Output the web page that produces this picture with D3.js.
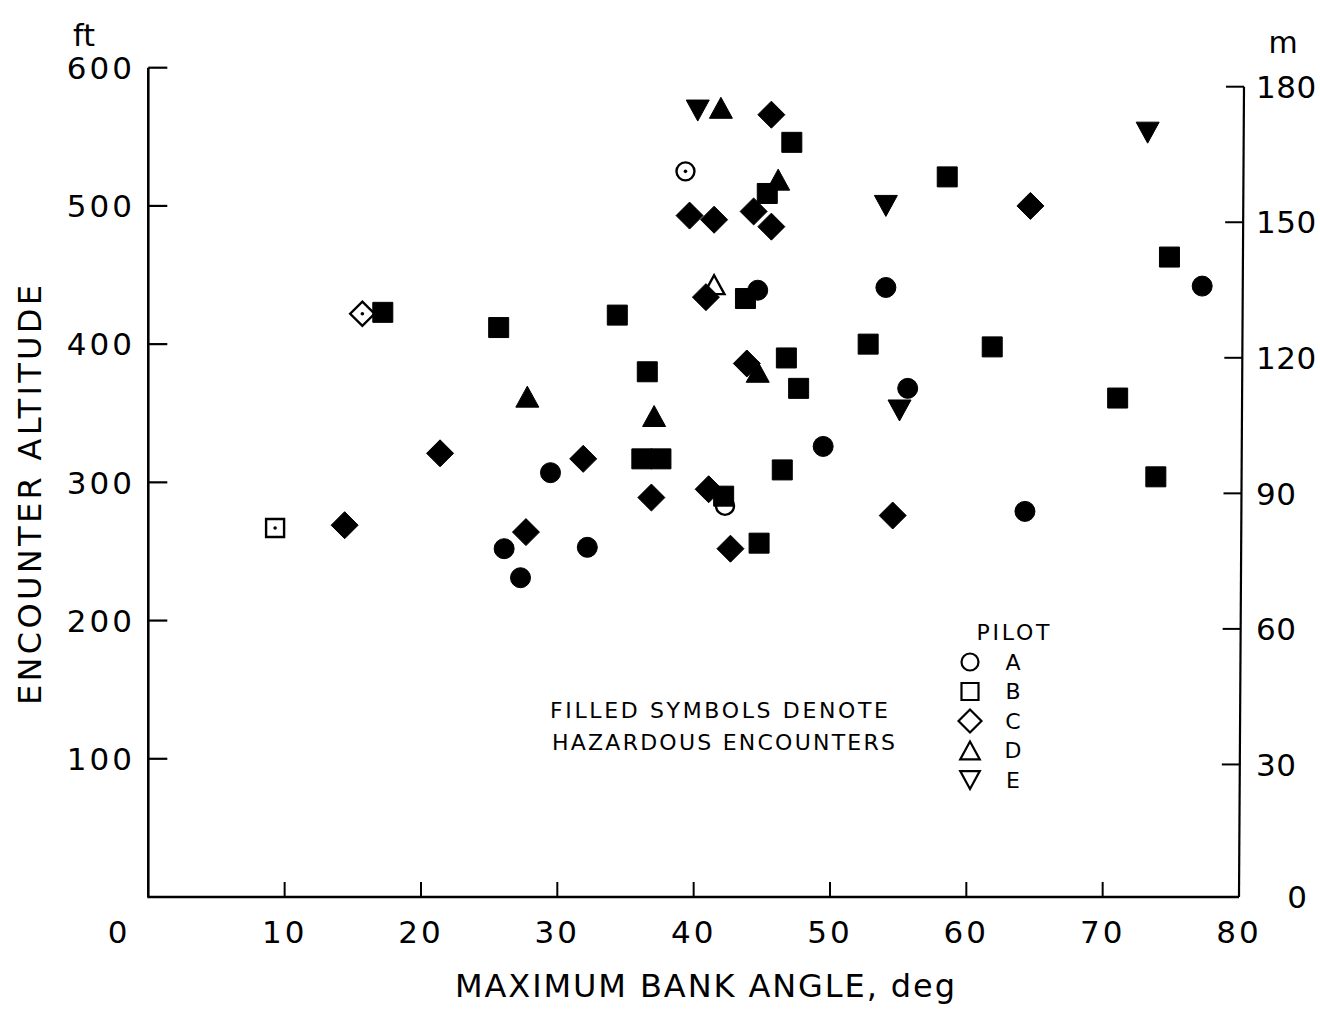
<!DOCTYPE html>
<html>
<head>
<meta charset="utf-8">
<script src="https://cdn.jsdelivr.net/npm/d3@7/dist/d3.min.js"></script>
<style>
  html, body { margin: 0; padding: 0; background: #fff; }
  svg { display: block; }
  text { font-family: "DejaVu Sans", sans-serif; fill: #000; }
</style>
</head>
<body>
<script>
// Encounter data: maximum bank angle (deg) vs encounter altitude (ft)
const pilots = ["A", "B", "C", "D", "E"];
const bankAngle = [
  // pilot A
  39.4, 44.7, 54.1, 55.7, 49.5, 29.5, 26.1, 32.2, 27.3, 64.3, 77.3, 42.3,
  // pilot B
  47.2, 45.4, 58.6, 74.9, 43.8, 34.4, 17.2, 25.7, 52.8, 61.9, 36.6, 46.8,
  47.7, 71.1, 36.2, 37.6, 46.5, 73.9, 42.2, 44.8, 9.3,
  // pilot C
  45.7, 39.7, 41.5, 44.4, 45.7, 64.7, 40.9, 43.9, 21.4, 31.9, 36.9, 41.1,
  14.4, 27.7, 54.6, 42.7, 15.7,
  // pilot D
  42.0, 46.2, 41.5, 44.7, 27.8, 37.1,
  // pilot E
  40.3, 54.1, 73.3, 55.1
];
const altitudeFt = [
  525, 439, 441, 368, 326, 307, 252, 253, 231, 279, 442, 283,
  546, 509, 521, 463, 433, 421, 423, 412, 400, 398, 380, 390,
  368, 361, 317, 317, 309, 304, 290, 256, 267,
  566, 493, 490, 496, 485, 500, 434, 386, 321, 317, 289, 295,
  269, 264, 276, 252, 422,
  571, 519, 443, 380, 362, 348,
  569, 500, 553, 352
];
const pilotOf = [
  "A","A","A","A","A","A","A","A","A","A","A","A",
  "B","B","B","B","B","B","B","B","B","B","B","B",
  "B","B","B","B","B","B","B","B","B",
  "C","C","C","C","C","C","C","C","C","C","C","C",
  "C","C","C","C","C",
  "D","D","D","D","D","D",
  "E","E","E","E"
];
// 1 = hazardous encounter (filled symbol), 0 = non-hazardous (open symbol)
const hazardous = [
  0,1,1,1,1,1,1,1,1,1,1,0,
  1,1,1,1,1,1,1,1,1,1,1,1,
  1,1,1,1,1,1,1,1,0,
  1,1,1,1,1,1,1,1,1,1,1,1,
  1,1,1,1,0,
  1,1,0,1,1,1,
  1,1,1,1
];
// open symbols drawn with a centre dot
const centreDot = [
  1,0,0,0,0,0,0,0,0,0,0,0,
  0,0,0,0,0,0,0,0,0,0,0,0,
  0,0,0,0,0,0,0,0,1,
  0,0,0,0,0,0,0,0,0,0,0,0,
  0,0,0,0,1,
  0,0,0,0,0,0,
  0,0,0,0
];

const xTicks = [0, 10, 20, 30, 40, 50, 60, 70, 80];
const yTicksFt = [100, 200, 300, 400, 500, 600];
const yTicksM = [0, 30, 60, 90, 120, 150, 180];

const W = 1320, H = 1009;
const svg = d3.select("body").append("svg").attr("width", W).attr("height", H);

const x = d3.scaleLinear().domain([0, 80]).range([148.3, 1239]);
const y = d3.scaleLinear().domain([0, 600]).range([897, 67.7]);
const yM = d3.scaleLinear().domain([0, 180]).range([900, 86.7]);

// symbol path builders, centred at 0,0
function shapePath(p, s) {
  switch (p) {
    case "A": { const q = d3.path(); q.arc(0, 0, 10 * s, 0, 2 * Math.PI); return q.toString(); }
    case "B": { const h = 10 * s; return `M${-h},${-h}H${h}V${h}H${-h}Z`; }
    case "C": { const r = 13.5 * s; return `M0,${-r}L${r},0L0,${r}L${-r},0Z`; }
    case "D": { const w = 11.5 * s, h = 10.5 * s; return `M0,${-h}L${w},${h}L${-w},${h}Z`; }
    case "E": { const w = 11.5 * s, h = 10.5 * s; return `M0,${h}L${w},${-h}L${-w},${-h}Z`; }
  }
}

const pts = bankAngle.map((a, i) => ({
  a, ft: altitudeFt[i], p: pilotOf[i], filled: hazardous[i] === 1, dot: centreDot[i] === 1
}));

const g = svg.append("g");
// open symbols first, filled symbols on top
const ordered = pts.filter(d => !d.filled).concat(pts.filter(d => d.filled));
ordered.forEach(d => {
  const s = d.filled ? 1 : 0.9;
  g.append("path")
    .attr("transform", `translate(${x(d.a)},${y(d.ft)})`)
    .attr("d", shapePath(d.p, s))
    .attr("fill", d.filled ? "#000" : "#fff")
    .attr("stroke", "#000")
    .attr("stroke-width", d.filled ? 1 : 2.4)
    .attr("stroke-linejoin", "miter");
  if (d.dot) {
    g.append("circle").attr("cx", x(d.a)).attr("cy", y(d.ft)).attr("r", 1.8).attr("fill", "#000");
  }
});

// axes frame
const axisG = svg.append("g").attr("fill", "none").attr("stroke", "#000");
axisG.append("path").attr("stroke-width", 2.6)
  .attr("d", `M${x(0)},${y(600)}V${y(0)}`);
axisG.append("path").attr("stroke-width", 2.4)
  .attr("d", `M${x(0) - 1},${y(0)}H${x(80)}`);
axisG.append("path").attr("stroke-width", 2.2)
  .attr("d", `M${x(80) + 5},${yM(180)}L${x(80)},${y(0)}`);

// left ft ticks (inward)
yTicksFt.forEach(v => {
  axisG.append("line").attr("stroke-width", 2.2)
    .attr("x1", x(0)).attr("x2", x(0) + 19).attr("y1", y(v)).attr("y2", y(v));
});
// bottom ticks (upward)
xTicks.filter(v => v > 0 && v < 80).forEach(v => {
  axisG.append("line").attr("stroke-width", 2)
    .attr("x1", x(v)).attr("x2", x(v)).attr("y1", y(0)).attr("y2", y(0) - 15);
});
// right metre ticks (inward)
const xRight = v => x(80) + 5 * (v / 180);
yTicksM.filter(v => v > 0).forEach(v => {
  axisG.append("line").attr("stroke-width", 2)
    .attr("x1", xRight(v)).attr("x2", xRight(v) - 18).attr("y1", yM(v)).attr("y2", yM(v));
});

// tick labels
const tickFont = 31;
yTicksFt.forEach(v => {
  svg.append("text").attr("x", 135).attr("y", y(v)).attr("dy", "0.36em")
    .attr("text-anchor", "end").attr("font-size", tickFont).attr("letter-spacing", 3)
    .text(v);
});
xTicks.forEach(v => {
  svg.append("text").attr("x", v === 0 ? 119 : x(v)).attr("y", 932).attr("dy", "0.36em")
    .attr("text-anchor", "middle").attr("font-size", tickFont).attr("letter-spacing", 3)
    .text(v);
});
yTicksM.forEach(v => {
  if (v === 0) {
    svg.append("text").attr("x", 1297).attr("y", 897).attr("dy", "0.36em")
      .attr("text-anchor", "middle").attr("font-size", tickFont).text(v);
  } else {
    svg.append("text").attr("x", 1256).attr("y", yM(v)).attr("dy", "0.36em")
      .attr("text-anchor", "start").attr("font-size", tickFont).attr("letter-spacing", 0.5)
      .text(v);
  }
});

// unit labels
svg.append("text").attr("x", 84).attr("y", 35).attr("dy", "0.36em")
  .attr("text-anchor", "middle").attr("font-size", 30).text("ft");
svg.append("text").attr("x", 1283).attr("y", 42).attr("dy", "0.36em")
  .attr("text-anchor", "middle").attr("font-size", 30).text("m");

// axis titles
svg.append("text")
  .attr("transform", `translate(29,495) rotate(-90)`)
  .attr("dy", "0.36em").attr("text-anchor", "middle").attr("font-size", 32)
  .attr("textLength", 420).attr("lengthAdjust", "spacing")
  .text("ENCOUNTER ALTITUDE");
svg.append("text")
  .attr("x", 705).attr("y", 985).attr("dy", "0.36em")
  .attr("text-anchor", "middle").attr("font-size", 32)
  .attr("textLength", 500).attr("lengthAdjust", "spacing")
  .text("MAXIMUM BANK ANGLE, deg");

// note
svg.append("text").attr("x", 550).attr("y", 710).attr("dy", "0.36em")
  .attr("font-size", 22).attr("textLength", 338).attr("lengthAdjust", "spacing")
  .text("FILLED SYMBOLS DENOTE");
svg.append("text").attr("x", 552).attr("y", 742).attr("dy", "0.36em")
  .attr("font-size", 22).attr("textLength", 343).attr("lengthAdjust", "spacing")
  .text("HAZARDOUS ENCOUNTERS");

// legend
svg.append("text").attr("x", 1013).attr("y", 632).attr("dy", "0.36em")
  .attr("text-anchor", "middle").attr("font-size", 22)
  .attr("textLength", 73).attr("lengthAdjust", "spacing")
  .text("PILOT");
const legendY = d3.scalePoint().domain(pilots).range([662, 780]);
pilots.forEach(p => {
  svg.append("path")
    .attr("transform", `translate(970,${legendY(p)})`)
    .attr("d", shapePath(p, 0.85))
    .attr("fill", "#fff").attr("stroke", "#000").attr("stroke-width", 2.2);
  svg.append("text").attr("x", 1013).attr("y", legendY(p)).attr("dy", "0.36em")
    .attr("text-anchor", "middle").attr("font-size", 22).text(p);
});
</script>
</body>
</html>
